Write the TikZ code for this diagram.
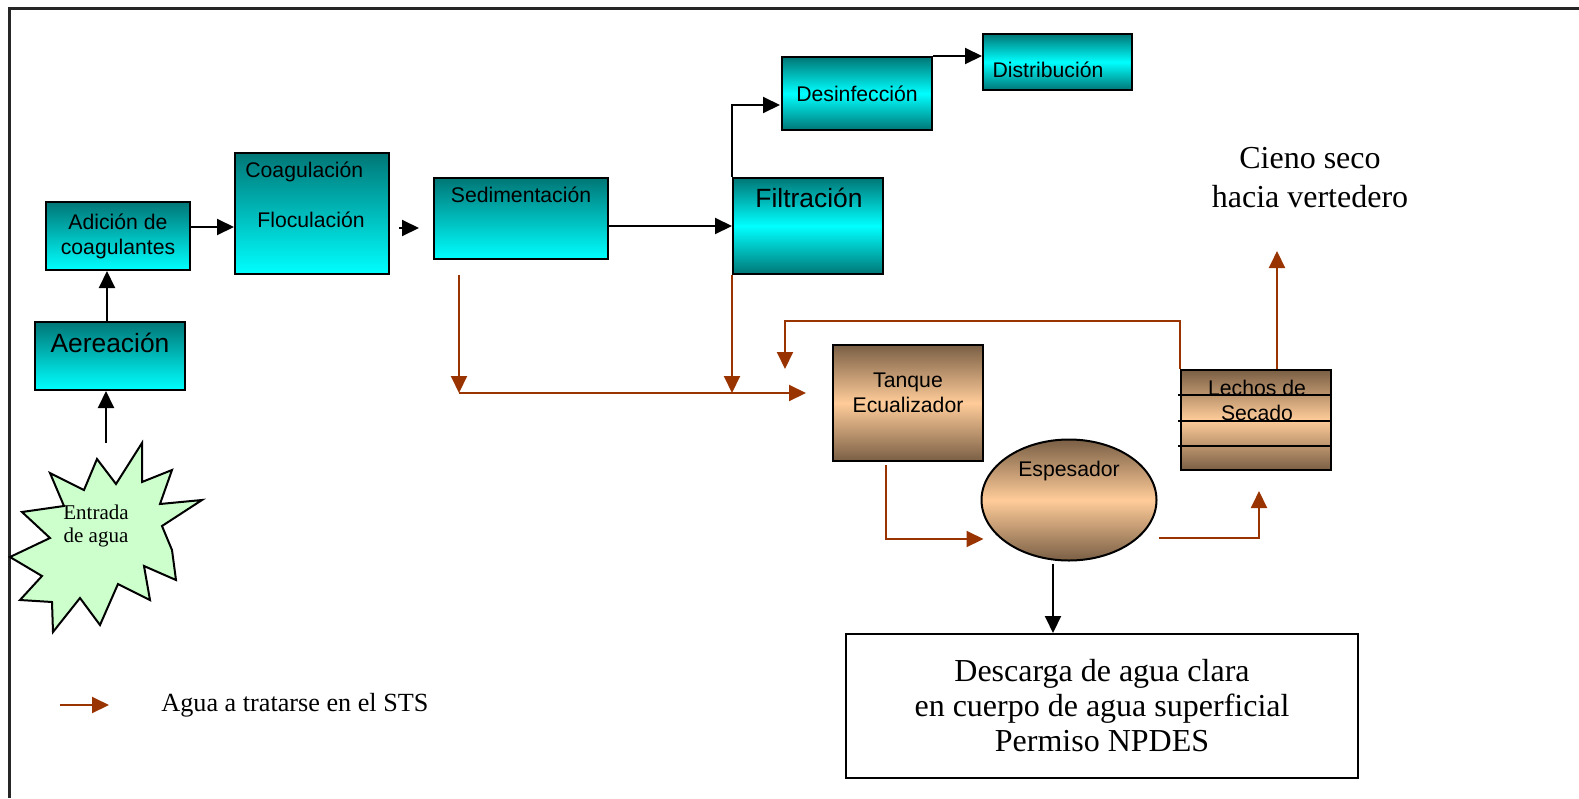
\documentclass[tikz,border=0pt]{standalone}
\usepackage{fontspec}
\setmainfont{Liberation Serif}
\setsansfont{Liberation Sans}
\usepackage{xcolor}
\usepackage{tikz}
\usetikzlibrary{shapes.geometric,arrows.meta,positioning,calc}
\definecolor{tealdark}{HTML}{007676}
\definecolor{aqua}{HTML}{00FFFF}
\definecolor{mud}{HTML}{7A5F45}
\definecolor{peach}{HTML}{FFCC99}
\definecolor{rust}{HTML}{993300}
\definecolor{mint}{HTML}{CCFFCC}
\newcommand{\procfont}{\sffamily\fontsize{10.6}{12.5}\selectfont}
\newcommand{\bigproc}{\sffamily\fontsize{13.2}{15}\selectfont}
\newcommand{\notefont}[2]{\rmfamily\fontsize{#1}{#2}\selectfont}

\begin{document}
\begin{tikzpicture}[x=0.5pt, y=-0.5pt,
    box/.style={rectangle, draw=black, line width=1pt, inner sep=0pt, align=center, font=\procfont},
    tealbox/.style={box, top color=tealdark, bottom color=aqua},
    tealmid/.style={box, top color=tealdark, bottom color=tealdark, middle color=aqua},
    mudmid/.style={box, top color=mud, bottom color=mud, middle color=peach},
    txt/.style={inner sep=0pt, align=center, font=\procfont},
    flow/.style={line width=1pt, -{Triangle[length=8.5pt,width=8pt]}},
    sts/.style={flow, draw=rust}
]
    \useasboundingbox (0,0) rectangle (1579,798);
    % page frame (only top and left edges show)
    \draw[line width=1.5pt, black!85] (9,798) -- (9,8) -- (1579,8);

    % water line
    \node[tealbox, minimum width=72pt, minimum height=34pt] (adicion) at (118,236) {Adición de\\coagulantes};
    \node[tealbox, minimum width=77pt, minimum height=60.5pt] (coag) at (312,213.5) {};
    \node[txt, anchor=west] (coagtxt) at (245,172) {Coagulación};
    \node[txt] (floctxt) at (311,220) {Floculación};
    \node[tealbox, minimum width=75pt, minimum height=34pt] (aereacion) at (110,356) {};
    \node[txt, font=\bigproc] (aertxt) at (110,343) {Aereación};
    \node[tealbox, minimum width=87pt, minimum height=40.5pt] (sedim) at (521,218.5) {};
    \node[txt] (sedtxt) at (521,195) {Sedimentación};
    \node[tealmid, minimum width=75pt, minimum height=48pt] (filtr) at (808,226) {};
    \node[txt, font=\bigproc] (filtxt) at (809,198) {Filtración};
    \node[tealmid, minimum width=75pt, minimum height=36.5pt] (desinf) at (857,93.5) {Desinfección};
    \node[tealmid, minimum width=74.5pt, minimum height=28pt] (distrib) at (1057.5,62) {};
    \node[txt] (distxt) at (1048,70) {Distribución};

    % sludge line
    \node[mudmid, minimum width=75pt, minimum height=58pt] (tanque) at (908,403) {};
    \node[txt] (tqtxt) at (908,393) {Tanque\\Ecualizador};
    \node[ellipse, draw=black, line width=1pt, inner sep=0pt, top color=mud, bottom color=mud, middle color=peach,
          minimum width=87.5pt, minimum height=60.5pt] (esp) at (1069,500) {};
    \node[txt] (esptxt) at (1069,471) {Espesador};
    \node[mudmid, minimum width=75pt, minimum height=50pt] (lechos) at (1256,420) {};
    \foreach \yy in {395,421,446}
        \draw[line width=1pt] (1178,\yy) -- (lechos.east |- 0,\yy);
    \node[txt] (lctxt) at (1257,400) {Lechos de\\Secado};
    \node[inner sep=0pt, align=center, font=\notefont{16}{19.5}] (cieno) at (1310,178) {Cieno seco\\hacia vertedero};
    \node[box, fill=white, minimum width=256pt, minimum height=72pt, font=\notefont{16}{17.5}] (descarga) at (1102,706) {Descarga de agua clara\\en cuerpo de agua superficial\\Permiso NPDES};

    % inlet
    \draw[line width=1pt, fill=mint] plot coordinates {
        (10,557) (50,538) (22,512) (64,506) (50,473) (84,490) (97,459) (116,484)
        (142,443) (142,482) (172,470) (160,504) (202,500) (162,526) (172,550)
        (176,580) (144,566) (150,600) (118,584) (100,625) (80,598) (53,632)
        (52,602) (20,600) (42,576)} -- cycle;
    \node[inner sep=0pt, align=center, font=\notefont{10.5}{11.5}] (entrada) at (96,526) {Entrada\\de agua};

    % black connectors
    \coordinate (inlet) at (106,443);
    \draw[flow] (inlet) -- (inlet |- aereacion.south);
    \coordinate (r1) at ($(aereacion.north)+(-3,0)$);
    \draw[flow] (r1) -- (r1 |- adicion.south);
    \coordinate (a1) at ($(adicion.east)+(0,-9)$);
    \draw[flow] (a1) -- (a1 -| coag.west);
    \coordinate (c1) at ($(coag.east)+(9,14.5)$);
    \draw[flow] (c1) -- ($(c1 -| sedim.west)+(-14,0)$);
    \draw[flow] (sedim.east |- filtr.west) -- (filtr.west);
    \draw[flow] (filtr.north west) |- ($(desinf.west)+(-1,11.5)$);
    \draw[flow] (desinf.north east) -- (desinf.north east -| distrib.west);
    \coordinate (e1) at ($(esp.south)+(-16,2)$);
    \draw[flow] (e1) -- (e1 |- descarga.north);

    % connectors for water sent to the STS
    \coordinate (s1) at ($(sedim.south)+(-62,15)$);
    \coordinate (bus) at (459,393);
    \coordinate (tqin) at ($(tanque.west)+(-26,-10)$);
    \draw[sts] (s1) -- (bus);
    \draw[sts] (bus) -- (tqin);
    \draw[sts] (filtr.south west) -- (filtr.south west |- bus);
    \coordinate (recyc) at ($(tanque.north west)+(-47,25)$);
    \draw[sts] (lechos.north west) -- ++(0,-48) -| (recyc);
    \coordinate (dry) at ($(lechos.north)+(21,-118)$);
    \draw[sts] ($(lechos.north)+(21,0)$) -- (dry);
    \draw[sts] ($(tanque.south)+(-22,3)$) |- ($(esp.west)+(3,39)$);
    \draw[sts] ($(esp.east)+(1,38)$) -| ($(lechos.south)+(3,20)$);

    % legend
    \coordinate (leg) at (60,705);
    \draw[sts] (leg) -- ++(49,0);
    \node[anchor=west, inner sep=0pt, font=\notefont{13.1}{15}] (legtxt) at (161,705) {Agua a tratarse en el STS};
\end{tikzpicture}
\end{document}
